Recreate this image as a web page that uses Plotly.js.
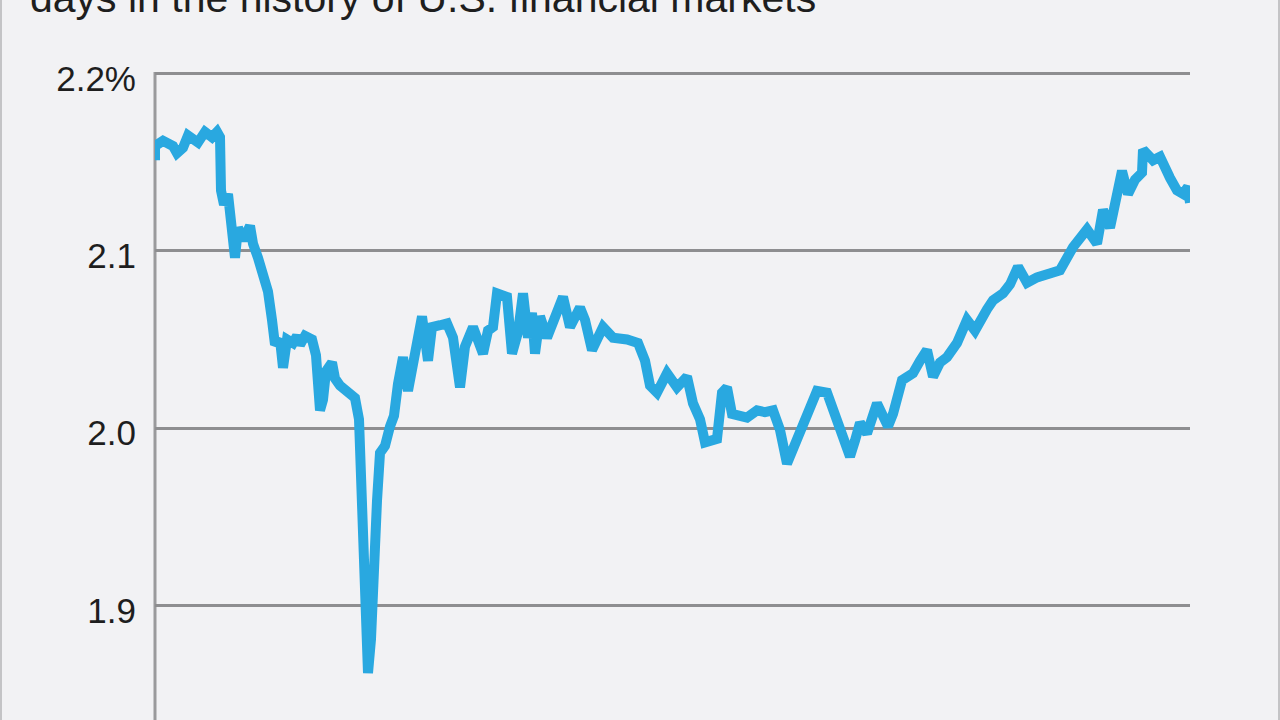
<!DOCTYPE html>
<html>
<head>
<meta charset="utf-8">
<script src="https://cdn.plot.ly/plotly-3.0.1.min.js"></script>
<style>
  html, body { margin:0; padding:0; background:#f2f2f4; overflow:hidden; }
  #wrap { position:absolute; left:0; top:0; width:1280px; height:720px; box-sizing:border-box;
          border-left:2px solid #c4c4c6; border-right:2px solid #c4c4c6; background:#f2f2f4; }
  #chart { width:1276px; height:720px; }
</style>
</head>
<body>
<div id="wrap"><div id="chart"></div></div>
<script>
// Trading-day index (approximate) and yield (%)
const days = [
  0, 0, 8, 18, 22, 28, 33, 43, 50, 57,
  62, 65, 66, 69, 73, 75, 78, 80, 83, 88,
  95, 98, 103, 107, 111, 113, 117, 120, 125, 128,
  132, 138, 142, 145, 150, 157, 161, 165, 168, 171,
  177, 180, 185, 193, 200, 204, 205, 207, 209, 211,
  213, 216, 218, 220, 222, 225, 230, 235, 239, 243,
  248, 253, 258, 263, 267, 273, 277, 285, 292, 298,
  305, 310, 318, 328, 333, 338, 342, 352, 357, 363,
  368, 373, 377, 380, 385, 392, 402, 408, 415, 425,
  430, 437, 448, 458, 472, 483, 490, 495, 502, 512,
  522, 532, 538, 545, 550, 555, 562, 567, 572, 577,
  592, 602, 610, 618, 625, 632, 638, 645, 652, 662,
  672, 682, 690, 695, 700, 705, 712, 722, 733, 738,
  747, 758, 765, 772, 778, 785, 792, 802, 812, 820,
  832, 838, 848, 855, 863, 872, 882, 892, 905, 918,
  925, 932, 942, 948, 955, 962, 967, 973, 980, 987,
  988, 993, 998, 1005, 1010, 1015, 1022, 1028, 1033, 1035
];
const yields = [
  2.151, 2.159, 2.162, 2.159, 2.155, 2.158, 2.165, 2.161, 2.167, 2.164,
  2.167, 2.164, 2.134, 2.126, 2.132, 2.123, 2.113, 2.096, 2.113, 2.106,
  2.114, 2.104, 2.096, 2.088, 2.085, 2.077, 2.061, 2.047, 2.050, 2.034,
  2.050, 2.048, 2.052, 2.047, 2.052, 2.050, 2.041, 2.010, 2.016, 2.032,
  2.037, 2.028, 2.024, 2.021, 2.017, 2.005, 1.990, 1.963, 1.937, 1.903,
  1.862, 1.881, 1.914, 1.934, 1.959, 1.986, 1.990, 2.001, 2.007, 2.025,
  2.040, 2.021, 2.037, 2.047, 2.063, 2.038, 2.057, 2.058, 2.059, 2.051,
  2.023, 2.046, 2.057, 2.042, 2.055, 2.057, 2.076, 2.074, 2.042, 2.054,
  2.076, 2.051, 2.065, 2.042, 2.063, 2.051, 2.065, 2.074, 2.057, 2.068,
  2.061, 2.044, 2.057, 2.051, 2.050, 2.048, 2.038, 2.024, 2.020, 2.031,
  2.023, 2.029, 2.014, 2.005, 1.992, 1.993, 1.994, 2.020, 2.023, 2.008,
  2.006, 2.010, 2.009, 2.010, 1.999, 1.980, 1.988, 1.999, 2.006, 2.021,
  2.020, 2.005, 1.990, 1.984, 1.993, 2.003, 1.997, 2.014, 2.001, 2.008,
  2.027, 2.031, 2.038, 2.044, 2.029, 2.037, 2.040, 2.048, 2.061, 2.055,
  2.067, 2.072, 2.076, 2.081, 2.091, 2.082, 2.085, 2.087, 2.089, 2.102,
  2.106, 2.112, 2.104, 2.123, 2.113, 2.130, 2.145, 2.132, 2.140, 2.144,
  2.157, 2.154, 2.151, 2.153, 2.146, 2.141, 2.134, 2.132, 2.136, 2.127
];
const tickValues = [1.9, 2.0, 2.1, 2.2];
const tickLabels = ["1.9", "2.0", "2.1", "2.2%"];
const subtitle = "days in the history of U.S. financial markets";

const FONT = '"Liberation Sans", Arial, Helvetica, sans-serif';

const trace = {
  x: days, y: yields, type: 'scatter', mode: 'lines',
  line: { color: '#29a8e0', width: 10 },
  hoverinfo: 'skip'
};

const layout = {
  width: 1276, height: 720,
  margin: { l: 153, r: 88, t: 68, b: 0 },
  paper_bgcolor: '#f2f2f4', plot_bgcolor: '#f2f2f4',
  showlegend: false,
  xaxis: { range: [0, 1035], showgrid: false, zeroline: false, showticklabels: false,
           showline: false, ticks: '' },
  yaxis: { range: [1.8355, 2.203], tickvals: tickValues, ticktext: tickLabels,
           showgrid: true, gridcolor: '#8e8e90', gridwidth: 3, zeroline: false,
           showline: false,
           ticks: '', ticklabelstandoff: 18, ticklabelshift: 5,
           tickfont: { family: FONT, size: 35, color: '#1e1e1e' } },
  shapes: [{
    type: 'line', xref: 'paper', yref: 'y', x0: 0, x1: 0,
    y0: tickValues[0] - 0.1, y1: tickValues[tickValues.length - 1] + 0.0008,
    line: { color: '#9a9a9c', width: 3 }, layer: 'below'
  }],
  annotations: [{
    text: subtitle, xref: 'paper', yref: 'paper', x: -0.1227, y: 1,
    xanchor: 'left', yanchor: 'bottom', yshift: 45, showarrow: false,
    font: { family: FONT, size: 41, color: '#1e1e1e' }
  }]
};

Plotly.newPlot('chart', [trace], layout, { displayModeBar: false, staticPlot: true });
</script>
</body>
</html>
